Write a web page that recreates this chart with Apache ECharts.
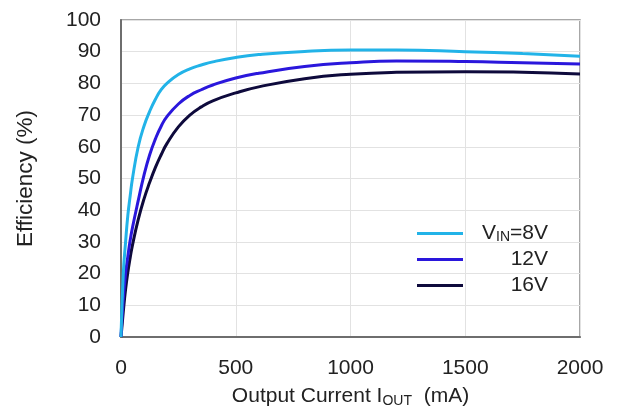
<!DOCTYPE html>
<html>
<head>
<meta charset="utf-8">
<script src="https://cdn.jsdelivr.net/npm/echarts@6/dist/echarts.min.js"></script>
<style>
  html, body { margin: 0; padding: 0; background: #fff; }
  #chart { width: 617px; height: 410px; }
</style>
</head>
<body>
<div id="chart"></div>
<script>
// output current (mA)
const current = [0, 10, 20, 30, 40, 50, 75, 100, 125, 150, 175, 200, 250, 300, 350, 400, 500, 600, 800, 1000, 1200, 1500, 1750, 2000];
// efficiency (%) per input voltage
const eff8V  = [0, 20, 30, 38.5, 44.5, 50, 60, 66.5, 71.2, 75, 78, 80, 82.8, 84.6, 85.8, 86.8, 88.2, 89.1, 90.1, 90.5, 90.5, 90, 89.4, 88.6];
const eff12V = [0, 12, 20, 25.5, 30.5, 34.5, 43, 51, 57.5, 62.5, 66.5, 69.5, 73.5, 76.2, 78, 79.5, 81.7, 83.2, 85.3, 86.5, 87.1, 86.9, 86.5, 86.1];
const eff16V = [0, 8, 15, 20.5, 25, 29, 37, 43.5, 48.8, 53.5, 57.5, 61, 66.3, 70, 72.6, 74.5, 77, 78.9, 81.5, 82.9, 83.5, 83.7, 83.5, 83];

const seriesNames = ['8V', '12V', '16V'];
const colors = ['#22b3e8', '#2a17dc', '#0e0a3c'];

const font = 'Liberation Sans, Arial, sans-serif';
const textColor = '#222';

function pairs(ys) {
  return current.map((x, i) => [x, ys[i]]);
}

const chart = echarts.init(document.getElementById('chart'));

const option = {
  animation: false,
  grid: {
    left: 121, top: 20, right: 37, bottom: 73,
    outerBoundsMode: 'none',
    show: true,
    borderColor: '#8a8a8a',
    borderWidth: 1.5
  },
  legend: {
    orient: 'vertical',
    right: 64,
    top: 217,
    itemWidth: 46,
    itemHeight: 3,
    itemGap: 5,
    icon: 'rect',
    data: seriesNames,
    textStyle: {
      fontFamily: font,
      fontSize: 21,
      color: textColor,
      padding: [0, 0, 0, 14],
      rich: {
        v: { fontFamily: font, fontSize: 21, lineHeight: 21, color: textColor },
        s: { fontFamily: font, fontSize: 14, lineHeight: 21, color: textColor, verticalAlign: 'bottom', padding: [8, 0, 0, 0] },
        r: { fontFamily: font, fontSize: 21, lineHeight: 21, color: textColor, width: 66, align: 'right' }
      }
    },
    formatter: function (name) {
      if (name === '8V') return '{v|V}{s|IN}{v|=8V}';
      return '{r|' + name + '}';
    }
  },
  xAxis: {
    type: 'value',
    min: 0,
    max: 2000,
    interval: 500,
    name: '{n|Output Current I}{s|OUT}{n|  (mA)}',
    nameLocation: 'middle',
    nameGap: 47,
    nameTextStyle: {
      rich: {
        n: { fontFamily: font, fontSize: 21, color: textColor },
        s: { fontFamily: font, fontSize: 14, color: textColor, padding: [10, 0, 0, 0] }
      }
    },
    axisLine: { show: true, lineStyle: { color: '#6e6e6e', width: 2 } },
    axisTick: { show: false },
    axisLabel: {
      fontFamily: font, fontSize: 21, color: textColor, margin: 21,
      formatter: function (v) { return String(v); }
    },
    splitLine: { show: true, lineStyle: { color: '#e2e2e2', width: 1 } }
  },
  yAxis: {
    type: 'value',
    min: 0,
    max: 100,
    interval: 10,
    name: 'Efficiency (%)',
    nameLocation: 'middle',
    nameGap: 84,
    nameTextStyle: { fontFamily: font, fontSize: 22.5, color: textColor },
    axisLine: { show: true, lineStyle: { color: '#6e6e6e', width: 2 } },
    axisTick: { show: false },
    axisLabel: { fontFamily: font, fontSize: 21, color: textColor, margin: 20 },
    splitLine: { show: true, lineStyle: { color: '#e2e2e2', width: 1 } }
  },
  series: [
    { name: '8V', data: pairs(eff8V) },
    { name: '12V', data: pairs(eff12V) },
    { name: '16V', data: pairs(eff16V) }
  ].map((s, i) => ({
    name: s.name,
    type: 'line',
    data: s.data,
    smooth: 0.5,
    showSymbol: false,
    color: colors[i],
    lineStyle: { color: colors[i], width: 3 },
    z: 10 - i
  }))
};

chart.setOption(option);
</script>
</body>
</html>
